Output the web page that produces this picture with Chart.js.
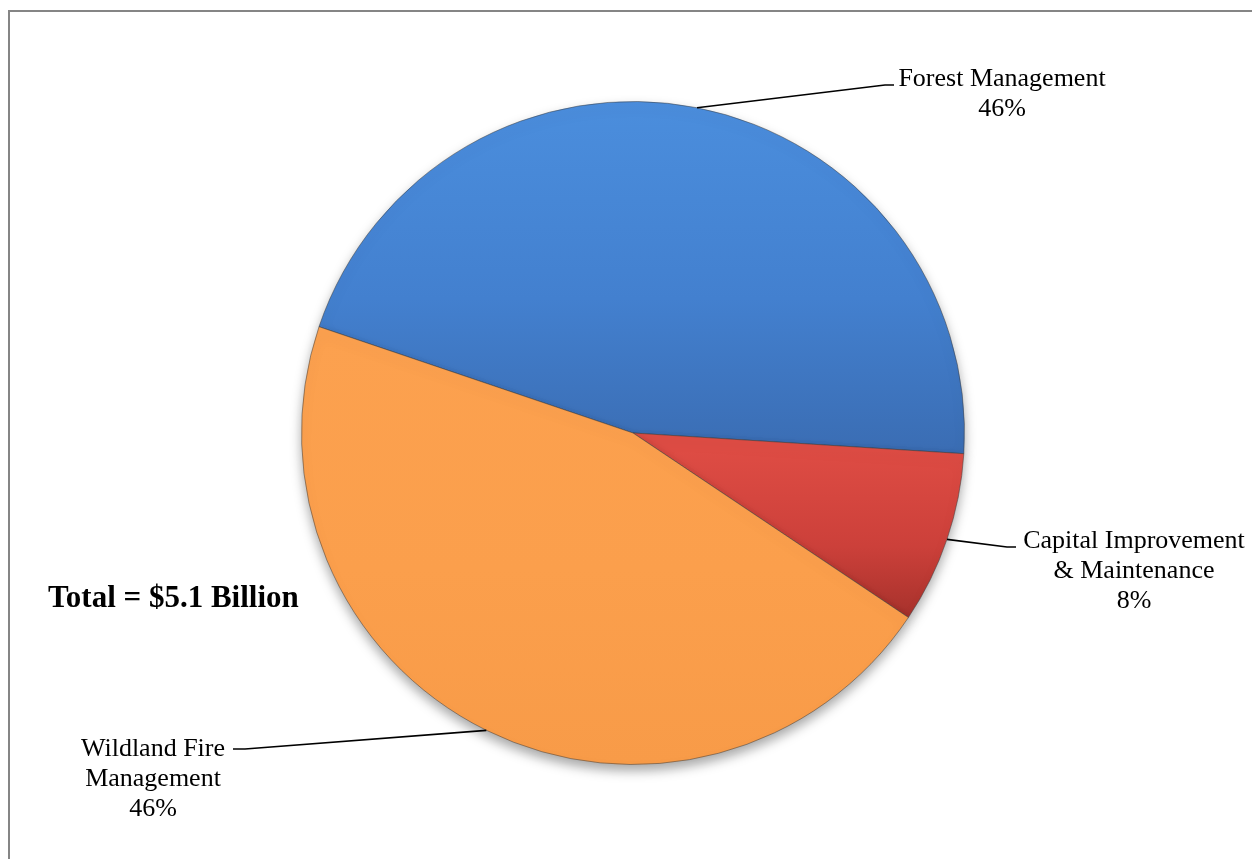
<!DOCTYPE html>
<html>
<head>
<meta charset="utf-8">
<script src="https://cdn.jsdelivr.net/npm/chart.js@4/dist/chart.umd.min.js"></script>
<style>
  html, body { margin: 0; padding: 0; background: #ffffff; }
  #wrap { position: relative; width: 1252px; height: 859px; }
  canvas { display: block; }
</style>
</head>
<body>
<div id="wrap"><canvas id="c" width="1252" height="859"></canvas></div>
<script>
// ---- Data ----
const categories = ['Forest Management', 'Capital Improvement & Maintenance', 'Wildland Fire Management'];
const labelLines = [['Forest Management'], ['Capital Improvement', '& Maintenance'], ['Wildland Fire', 'Management']];
const shares = [45.8, 8.4, 45.8];
const totalText = 'Total = $5.1 Billion';

// ---- Styling ----
const gradStops = [
  ['#4b8edd', '#4380cf', '#3a6cb2'],
  ['#de4c44', '#cc403a', '#a3302a'],
  ['#fca14f', '#fb9f4c', '#f89b48']
];

function sliceColor(ctx) {
  const chart = ctx.chart;
  const area = chart.chartArea;
  if (!area) return gradStops[ctx.dataIndex][1];
  const c = chart.ctx;
  const s = gradStops[ctx.dataIndex];
  let g;
  if (ctx.dataIndex === 1) {
    g = c.createLinearGradient(0, 450, 0, 625);
  } else if (ctx.dataIndex === 0) {
    g = c.createLinearGradient(0, area.top, 0, 460);
  } else {
    g = c.createLinearGradient(0, 330, 0, area.bottom);
  }
  g.addColorStop(0, s[0]);
  g.addColorStop(0.55, s[1]);
  g.addColorStop(1, s[2]);
  return g;
}

const shadowPlugin = {
  id: 'shadow',
  beforeDatasetsDraw(chart) {
    const c = chart.ctx;
    c.save();
    c.shadowColor = 'rgba(0,0,0,0.35)';
    c.shadowBlur = 12;
    c.shadowOffsetX = 0;
    c.shadowOffsetY = 6;
  },
  afterDatasetsDraw(chart) {
    chart.ctx.restore();
  }
};

const labelPlugin = {
  id: 'leaderLabels',
  afterDraw(chart) {
    const c = chart.ctx;
    const meta = chart.getDatasetMeta(0);
    const total = shares.reduce((a, b) => a + b, 0);
    const layout = [
      { elbowX: 885, elbowY: 85, endX: 894, textX: 1002, baseY: 86 },
      { elbowX: 1007, elbowY: 547, endX: 1016, textX: 1134, baseY: 548 },
      { elbowX: 245, elbowY: 749, endX: 233, textX: 153, baseY: 756 }
    ];
    c.save();
    c.strokeStyle = '#000';
    c.lineWidth = 1.7;
    c.fillStyle = '#000';
    c.font = '26px "Liberation Serif", "Times New Roman", serif';
    c.textAlign = 'center';
    c.textBaseline = 'alphabetic';
    meta.data.forEach((arc, i) => {
      const p = arc.getProps(['x', 'y', 'startAngle', 'endAngle', 'outerRadius'], true);
      const mid = (p.startAngle + p.endAngle) / 2;
      const sx = p.x + Math.cos(mid) * p.outerRadius;
      const sy = p.y + Math.sin(mid) * p.outerRadius;
      const L = layout[i];
      c.beginPath();
      c.moveTo(sx, sy);
      c.lineTo(L.elbowX, L.elbowY);
      c.lineTo(L.endX, L.elbowY);
      c.stroke();
      const lines = labelLines[i].concat([Math.round(shares[i] / total * 100) + '%']);
      lines.forEach((t, k) => c.fillText(t, L.textX, L.baseY + k * 30));
    });
    c.font = 'bold 31px "Liberation Serif", "Times New Roman", serif';
    c.textAlign = 'left';
    c.fillText(totalText, 48, 607);
    c.strokeStyle = '#858585';
    c.lineWidth = 2;
    c.beginPath();
    c.moveTo(9, 859);
    c.lineTo(9, 11);
    c.lineTo(1252, 11);
    c.stroke();
    c.restore();
  }
};

new Chart(document.getElementById('c'), {
  type: 'pie',
  data: {
    labels: categories,
    datasets: [{
      data: shares,
      backgroundColor: sliceColor,
      borderColor: 'rgba(60,60,60,0.5)',
      borderWidth: 1
    }]
  },
  options: {
    responsive: false,
    animation: false,
    rotation: 288.7,
    layout: { padding: { left: 301, right: 287, top: 101, bottom: 94 } },
    plugins: {
      legend: { display: false },
      tooltip: { enabled: false },
      title: { display: false }
    }
  },
  plugins: [shadowPlugin, labelPlugin]
});
</script>
</body>
</html>
